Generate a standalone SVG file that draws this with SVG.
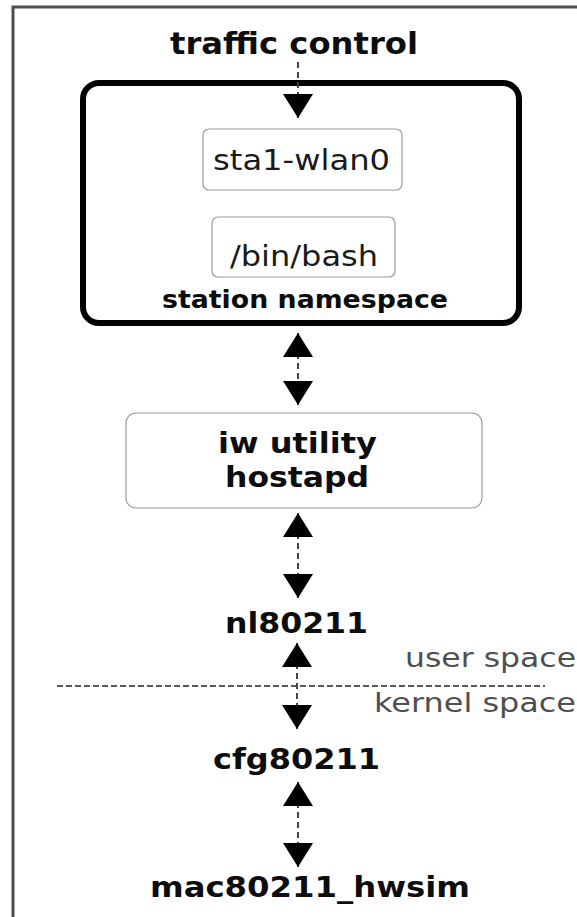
<svg xmlns="http://www.w3.org/2000/svg" width="577" height="917" viewBox="0 0 577 917">
  <defs>
    <marker id="tip" markerUnits="userSpaceOnUse" markerWidth="24" markerHeight="30" viewBox="0 0 24 30" refX="24" refY="15" orient="auto-start-reverse">
      <path d="M0,0 L24,15 L0,30 Z" fill="#000"/>
    </marker>
  </defs>
  <style>
    .bold { font-family: "DejaVu Sans", Verdana, sans-serif; font-weight: bold; fill: #0d0d0d; }
    .reg { font-family: "DejaVu Sans", Verdana, sans-serif; fill: #1a1a1a; }
    .note { font-family: "DejaVu Sans", Verdana, sans-serif; fill: #4f4f4f; }
    .box { fill: #fff; stroke: #9a9a9a; stroke-width: 1.2; }
    .link { stroke: #444; stroke-width: 2; stroke-dasharray: 6 4; fill: none; }
  </style>
  <rect width="577" height="917" fill="#fff"/>
  <!-- page frame, open to the right and bottom -->
  <rect x="13" y="7" width="620" height="960" fill="none" stroke="#4d4d4d" stroke-width="3"/>

  <g id="traffic-control">
    <text class="bold" x="170" y="54" font-size="30" textLength="248" lengthAdjust="spacingAndGlyphs">traffic control</text>
  </g>

  <g id="station-namespace">
    <rect x="83" y="83" width="436" height="240" rx="16" fill="none" stroke="#000" stroke-width="6"/>
    <text class="bold" x="162" y="308" font-size="25" textLength="286" lengthAdjust="spacingAndGlyphs">station namespace</text>
  </g>

  <g id="sta1-wlan0">
    <rect class="box" x="203" y="129" width="199" height="61" rx="6"/>
    <text class="reg" x="213" y="170" font-size="29" textLength="177" lengthAdjust="spacingAndGlyphs">sta1-wlan0</text>
  </g>

  <g id="bin-bash">
    <rect class="box" x="212" y="217" width="183" height="60" rx="6"/>
    <text class="reg" x="230" y="266" font-size="29" textLength="148" lengthAdjust="spacingAndGlyphs">/bin/bash</text>
  </g>

  <g id="iw-hostapd">
    <rect class="box" x="126" y="413" width="356" height="95" rx="10"/>
    <text class="bold" x="218" y="453" font-size="29" textLength="159" lengthAdjust="spacingAndGlyphs">iw utility</text>
    <text class="bold" x="225" y="487" font-size="29" textLength="144" lengthAdjust="spacingAndGlyphs">hostapd</text>
  </g>

  <g id="nl80211">
    <text class="bold" x="225" y="633" font-size="29" textLength="143" lengthAdjust="spacingAndGlyphs">nl80211</text>
  </g>

  <g id="cfg80211">
    <text class="bold" x="213" y="769" font-size="29" textLength="167" lengthAdjust="spacingAndGlyphs">cfg80211</text>
  </g>

  <g id="mac80211-hwsim">
    <text class="bold" x="150" y="897" font-size="29" textLength="320" lengthAdjust="spacingAndGlyphs">mac80211_hwsim</text>
  </g>

  <g id="space-boundary">
    <line x1="57" y1="686" x2="545" y2="686" stroke="#222" stroke-width="1.5" stroke-dasharray="6 3"/>
    <text class="note" x="405" y="667" font-size="26" textLength="171" lengthAdjust="spacingAndGlyphs">user space</text>
    <text class="note" x="374" y="712" font-size="26" textLength="202" lengthAdjust="spacingAndGlyphs">kernel space</text>
  </g>

  <g id="connectors">
    <line class="link" x1="298" y1="62" x2="298" y2="118" stroke-width="1.5" marker-end="url(#tip)"/>
    <line class="link" x1="298" y1="333" x2="298" y2="405" marker-start="url(#tip)" marker-end="url(#tip)"/>
    <line class="link" x1="298" y1="513" x2="298" y2="598" marker-start="url(#tip)" marker-end="url(#tip)"/>
    <line class="link" x1="297" y1="643" x2="297" y2="729" marker-start="url(#tip)" marker-end="url(#tip)"/>
    <line class="link" x1="298" y1="782" x2="298" y2="867" marker-start="url(#tip)" marker-end="url(#tip)"/>
  </g>
</svg>
